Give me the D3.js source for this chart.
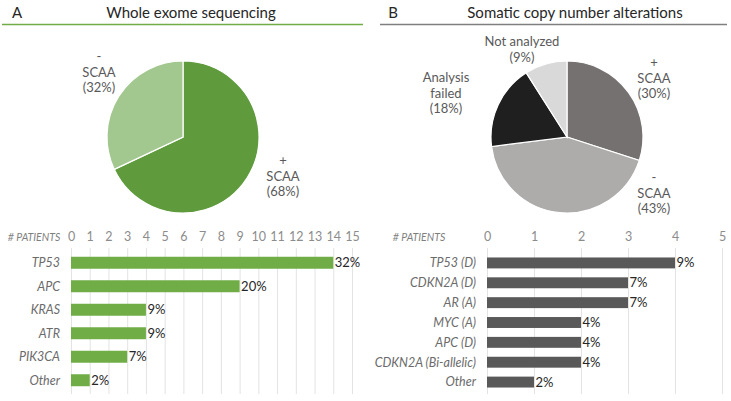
<!DOCTYPE html>
<html><head><meta charset="utf-8">
<script src="https://cdn.jsdelivr.net/npm/d3@7"></script>
<style>body{margin:0;background:#fff}svg{display:block}text{font-family:Lato,"Open Sans",sans-serif}</style>
</head><body>
<svg id="c" width="731" height="401"></svg>
<script>
// Data
const pieALabels = [["+","SCAA","(68%)"],["-","SCAA","(32%)"]];
const pieAValues = [68, 32];
const pieAColors = ["#5f9b3d", "#a3c88f"];

const pieBLabels = [["+","SCAA","(30%)"],["-","SCAA","(43%)"],["Analysis","failed","(18%)"],["Not analyzed","(9%)"]];
const pieBValues = [30, 43, 18, 9];
const pieBColors = ["#767171", "#aeabab", "#1f1f1f", "#d9d9d9"];

const barACats = ["TP53","APC","KRAS","ATR","PIK3CA","Other"];
const barAValues = [14, 9, 4, 4, 3, 1];
const barALabels = ["32%","20%","9%","9%","7%","2%"];
const barATicks = [0,1,2,3,4,5,6,7,8,9,10,11,12,13,14,15];

const barBCats = ["TP53 (D)","CDKN2A (D)","AR (A)","MYC (A)","APC (D)","CDKN2A (Bi-allelic)","Other"];
const barBValues = [4, 3, 3, 2, 2, 2, 1];
const barBLabels = ["9%","7%","7%","4%","4%","4%","2%"];
const barBTicks = [0,1,2,3,4,5];

const svg = d3.select("#c");

// Headers
function header(letter, lx, title, tx, x1, x2, col){
  svg.append("text").attr("x",lx).attr("y",18).attr("text-anchor","middle").attr("font-size",15).attr("fill","#262626").text(letter);
  svg.append("text").attr("x",tx).attr("y",18).attr("text-anchor","middle").attr("font-size",15).attr("fill","#262626").text(title);
  svg.append("line").attr("x1",x1).attr("x2",x2).attr("y1",24.5).attr("y2",24.5).attr("stroke",col).attr("stroke-width",1.5);
}
header("A", 17, "Whole exome sequencing", 191, 2, 363, "#70ad47");
header("B", 393, "Somatic copy number alterations", 575, 380, 727, "#7f7f7f");

// Pies
function pie(cx, cy, r, values, colors){
  const arcs = d3.pie().sort(null)(values);
  const arc = d3.arc().innerRadius(0).outerRadius(r);
  svg.append("g").attr("transform",`translate(${cx},${cy})`)
    .selectAll("path").data(arcs).join("path")
    .attr("d",arc).attr("fill",(d,i)=>colors[i]).attr("stroke","#fff").attr("stroke-width",1.2);
}
pie(183, 137, 76, pieAValues, pieAColors);
pie(567, 137, 76, pieBValues, pieBColors);

function lbl(x, y, lines){
  const t = svg.append("text").attr("x",x).attr("y",y).attr("text-anchor","middle").attr("font-size",13).attr("fill","#595959");
  lines.forEach((l,i)=>t.append("tspan").attr("x",x).attr("dy",i?15.5:0).text(l));
}
lbl(283, 165, pieALabels[0]);
lbl(99, 61, pieALabels[1]);
lbl(654, 67, pieBLabels[0]);
lbl(654, 182, pieBLabels[1]);
lbl(446, 82, pieBLabels[2]);
lbl(522, 46, pieBLabels[3]);

// Bars
function bars(o){
  const x = d3.scaleLinear().domain([0, o.max]).range([o.x0, o.x1]);
  const y = d3.scaleBand().domain(o.cats).range([o.y0, o.y1]).paddingInner(o.pad).paddingOuter(o.pad/2);
  const g = svg.append("g");
  g.selectAll("line.grid").data(o.ticks).join("line").attr("class","grid")
    .attr("x1",d=>x(d)+0.5).attr("x2",d=>x(d)+0.5).attr("y1",o.gy0).attr("y2",o.gy1)
    .attr("stroke","#e3e3e3").attr("stroke-width",1);
  const ax = d3.axisTop(x).tickValues(o.ticks).tickFormat(d3.format("d")).tickSize(0).tickPadding(0);
  const ag = g.append("g").attr("transform",`translate(0,241)`).call(ax);
  ag.select(".domain").remove();
  ag.selectAll("text").attr("font-size",12.5).attr("fill","#8c8c8c").attr("font-family","Lato, sans-serif");
  g.append("text").attr("x",o.px).attr("y",240.5).attr("text-anchor","middle").attr("font-size",10.5).attr("font-style","italic").attr("fill","#7f7f7f").text("# PATIENTS");
  g.selectAll("rect").data(o.values).join("rect")
    .attr("x",x(0)).attr("y",(d,i)=>y(o.cats[i])).attr("width",d=>x(d)-x(0)).attr("height",y.bandwidth())
    .attr("fill",o.color);
  g.selectAll("text.cat").data(o.cats).join("text").attr("class","cat")
    .attr("x",o.lx).attr("y",d=>y(d)+y.bandwidth()/2).attr("dy","0.35em").attr("text-anchor","end")
    .attr("font-size",12.5).attr("font-style","italic").attr("fill","#6b6b6b").text(d=>d);
  g.selectAll("text.val").data(o.values).join("text").attr("class","val")
    .attr("x",d=>x(d)+1.5).attr("y",(d,i)=>y(o.cats[i])+y.bandwidth()/2).attr("dy","0.35em")
    .attr("font-size",13).attr("fill","#262626").text((d,i)=>o.labels[i]);
}
bars({max:15, x0:71, x1:352, y0:251, y1:392, pad:0.49, cats:barACats, values:barAValues, labels:barALabels, ticks:barATicks,
      color:"#70ad47", gy0:248, gy1:394, px:34, lx:60});
bars({max:5, x0:487, x1:722, y0:253, y1:392, pad:0.45, cats:barBCats, values:barBValues, labels:barBLabels, ticks:barBTicks,
      color:"#595959", gy0:248, gy1:394, px:419, lx:476});
</script>
</body></html>
